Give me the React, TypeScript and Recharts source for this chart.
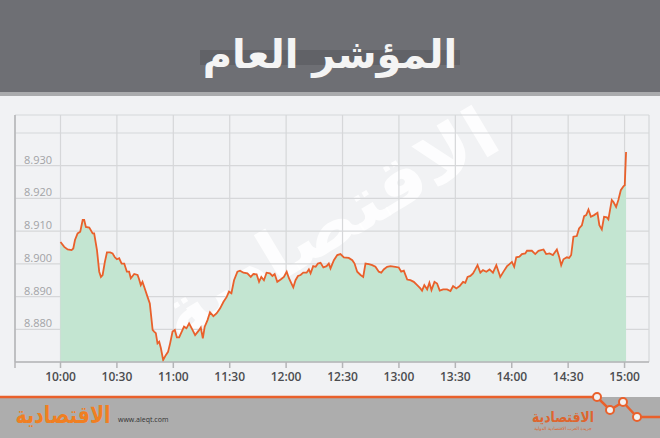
import { AreaChart, Area, XAxis, YAxis, CartesianGrid } from "recharts";

// minutes after 10:00 and index level
const minutes = [
  0, 2, 3.8, 5.9, 6.8, 7.7, 9.1, 10.5, 11.8, 12.6,
  13.5, 15.3, 17.1, 17.9, 19.4, 20.6, 21.5, 22.4, 23.6, 24.7,
  26.4, 27.7, 28.9, 30, 31.2, 32.5, 33.9, 35.3, 36.5, 37.4,
  39.2, 41, 41.8, 42.7, 43.6, 44.5, 46.3, 47.5, 49, 49.8,
  50.7, 51.6, 52.5, 53.4, 54.6, 56, 57.2, 58.3, 59.6, 60.8,
  61.9, 63.1, 64.9, 65.7, 67, 68.4, 70.2, 71.6, 73.4, 74.6,
  75.7, 76.7, 78.2, 79.5, 81.3, 83.1, 84.9, 86.7, 88.4, 89.6,
  90.9, 92.3, 94.1, 95.5, 97.3, 99.4, 101.2, 102.6, 104.3, 105.6,
  106.8, 108.2, 109.6, 111.4, 112.7, 113.9, 115.3, 117.1, 118.8, 120.3,
  121.5, 122.8, 123.8, 125, 126.3, 127.7, 129.1, 130.9, 132.1, 133,
  134.4, 135.7, 136.9, 138.3, 139.8, 141.5, 142.7, 143.6, 145.4, 147.2,
  148.9, 150.7, 153.3, 155.2, 156.4, 157.8, 159.6, 161, 162.2, 164,
  165.8, 167.5, 169.3, 170.6, 171.9, 173.7, 175.5, 178.1, 179.9, 181.2,
  182.6, 184.4, 186.1, 187.9, 189.7, 191.4, 192.3, 193.5, 195, 196.2,
  197.3, 198.9, 200.3, 201.7, 203.5, 205.6, 207.4, 208.8, 210.5, 212.3,
  214.1, 215.3, 216.5, 218, 219.4, 220.6, 221.8, 223.3, 224.7, 226.5,
  228.2, 230, 231.8, 233, 233.9, 235.7, 237.5, 238.8, 240.1, 241.3,
  242.4, 244.1, 245.4, 247.2, 248.1, 250.7, 252.5, 254.2, 256.9, 258.3,
  260.1, 261.9, 264, 265.2, 266.3, 267.5, 269.3, 270.5, 271.6, 272.8,
  274.6, 275.8, 277.3, 278.5, 279.6, 280.8, 282.1, 283.8, 285.6, 286.6,
  287.9, 289.1, 290.6, 291.4, 293.2, 294.1, 295.5, 296.7, 298, 299.4,
  300.1, 300.8,
];

const levels = [
  8.9067, 8.9052, 8.9044, 8.9042, 8.9047, 8.9073, 8.9093, 8.9098, 8.9134, 8.9134,
  8.9113, 8.9111, 8.9093, 8.9093, 8.9042, 8.8976, 8.896, 8.8966, 8.9006, 8.9035,
  8.9035, 8.9032, 8.902, 8.9014, 8.9017, 8.9001, 8.9001, 8.8976, 8.8976, 8.8956,
  8.8969, 8.8966, 8.8953, 8.8935, 8.8945, 8.893, 8.8899, 8.8879, 8.8798, 8.8793,
  8.8788, 8.8757, 8.8762, 8.8742, 8.8706, 8.8721, 8.8731, 8.8757, 8.8793, 8.8798,
  8.8775, 8.8775, 8.8798, 8.8808, 8.8803, 8.8818, 8.8798, 8.8782, 8.8795, 8.8805,
  8.8772, 8.8808, 8.8828, 8.8852, 8.884, 8.8849, 8.8864, 8.8884, 8.8899, 8.8915,
  8.891, 8.895, 8.8976, 8.8979, 8.8973, 8.8971, 8.896, 8.8969, 8.8968, 8.8945,
  8.896, 8.895, 8.8973, 8.8971, 8.8963, 8.8969, 8.8945, 8.8952, 8.896, 8.8976,
  8.8956, 8.894, 8.8928, 8.895, 8.8963, 8.8966, 8.8973, 8.8973, 8.8983, 8.8971,
  8.8993, 8.8991, 8.9001, 8.9003, 8.8989, 8.8993, 8.9001, 8.8986, 8.9011, 8.9027,
  8.903, 8.902, 8.9018, 8.9011, 8.9001, 8.8976, 8.8966, 8.896, 8.9001, 8.8999,
  8.8996, 8.8991, 8.8976, 8.8973, 8.8983, 8.8991, 8.8993, 8.8991, 8.8989, 8.8976,
  8.8979, 8.8952, 8.895, 8.8945, 8.8935, 8.8925, 8.8918, 8.8935, 8.8922, 8.8942,
  8.892, 8.8945, 8.894, 8.8918, 8.8922, 8.8922, 8.8917, 8.8932, 8.8925, 8.8932,
  8.8945, 8.8942, 8.896, 8.8963, 8.8971, 8.8983, 8.8996, 8.8973, 8.8981, 8.8976,
  8.8983, 8.8973, 8.8996, 8.8976, 8.896, 8.8977, 8.8993, 8.8999, 8.9006, 8.8991,
  8.902, 8.9022, 8.903, 8.9032, 8.904, 8.904, 8.903, 8.904, 8.9044, 8.903,
  8.9032, 8.9027, 8.9044, 8.9022, 8.8996, 8.9014, 8.902, 8.9018, 8.9027, 8.9083,
  8.9085, 8.9108, 8.9118, 8.9146, 8.9149, 8.9166, 8.9144, 8.9149, 8.9156, 8.9118,
  8.9105, 8.9144, 8.9142, 8.9136, 8.9195, 8.9189, 8.9174, 8.9195, 8.9225, 8.9237,
  8.924, 8.9342,
];

const timeTicks = [0, 30, 60, 90, 120, 150, 180, 210, 240, 270, 300];
const timeLabels = ["10:00", "10:30", "11:00", "11:30", "12:00", "12:30", "13:00", "13:30", "14:00", "14:30", "15:00"];
const levelTicks = [8.87, 8.88, 8.89, 8.9, 8.91, 8.92, 8.93, 8.94];
const levelLabels = ["", "8.880", "8.890", "8.900", "8.910", "8.920", "8.930", ""];

const title = "المؤشر العام";
const brand = "الاقتصادية";

const W = 660;
const H = 438;
const PLOT_LEFT = 14;
const X_MIN = -24.2;
const X_MAX = 313;

const data = minutes.map((t, i) => ({ t, v: levels[i] }));

const axisGray = "#b4b5b7";
const gridGray = "#d6d7d9";
const orange = "#e9602b";

function levelTick(props: any) {
  const value = props.payload?.value;
  const i = levelTicks.findIndex((v) => Math.abs(v - value) < 1e-6);
  const label = i >= 0 ? levelLabels[i] : "";
  if (!label) return <g />;
  return (
    <text x={PLOT_LEFT + 10} y={props.y - 2} textAnchor="start" fontSize={11} fill="#a2a3a6" fontFamily="Open Sans">
      {label}
    </text>
  );
}

function timeLabel(v: number) {
  const i = timeTicks.indexOf(v);
  return i >= 0 ? timeLabels[i] : "";
}

function Backdrop() {
  const zig = [
    [0, 397],
    [597, 397],
    [610, 410],
    [623, 402],
    [637, 417],
    [660, 417],
  ];
  return (
    <svg width={W} height={H} style={{ position: "absolute", left: 0, top: 0 }}>
      <rect x={0} y={0} width={W} height={H} fill="#f1f2f4" />
      <rect x={0} y={0} width={W} height={92} fill="#6e6f74" />
      <rect x={0} y={92} width={W} height={4} fill="#aaabad" />
      <rect x={200} y={50} width={260} height={15} fill="#616267" />
      <text x={330} y={68} textAnchor="middle" fontSize={40} fontWeight="bold" fontFamily="DejaVu Sans" fill="#f4f4f4">
        {title}
      </text>
      {/* faint watermark across the plot */}
      <text
        x={330}
        y={248}
        transform="rotate(-31 330 226)"
        textAnchor="middle"
        fontSize={70}
        fontWeight="bold"
        fontFamily="DejaVu Sans"
        fill="#ffffff"
        fillOpacity={0.85}
        textLength={380}
        lengthAdjust="spacingAndGlyphs"
      >
        {brand}
      </text>
      <rect x={0} y={397} width={W} height={41} fill="#adadad" />
      <text x={118} y={422} textAnchor="start" fontSize={7} fontFamily="Open Sans" fill="#333">
        www.aleqt.com
      </text>
      <text
        transform="translate(63 423) scale(1 1.25)"
        textAnchor="middle"
        fontSize={19}
        fontWeight="bold"
        fontFamily="DejaVu Sans"
        fill="#f07f22"
      >
        {brand}
      </text>
      <text
        transform="translate(563 422) scale(1 1.2)"
        textAnchor="middle"
        fontSize={12.4}
        fontWeight="bold"
        fontFamily="DejaVu Sans"
        fill="#de652e"
      >
        {brand}
      </text>
      <text x={563} y={430} textAnchor="middle" fontSize={4.5} fontFamily="DejaVu Sans" fill="#de652e">
        جريدة العرب الاقتصادية الدولية
      </text>
      <polyline points={zig.map((p) => p.join(",")).join(" ")} fill="none" stroke={orange} strokeWidth={2.5} />
      {zig.slice(1, 5).map((p, i) => (
        <circle key={i} cx={p[0]} cy={p[1]} r={4} fill="#f2f2f2" stroke={orange} strokeWidth={2} />
      ))}
    </svg>
  );
}

export default function App() {
  return (
    <div style={{ position: "absolute", left: 0, top: 0, width: W, height: H, overflow: "hidden", fontFamily: "Open Sans" }}>
      <Backdrop />
      <div style={{ position: "absolute", left: 0, top: 0 }}>
        <AreaChart width={W} height={H} data={data} margin={{ top: 115, right: 11, bottom: 52, left: PLOT_LEFT }}>
          <CartesianGrid stroke={gridGray} strokeWidth={1.2} />
          <XAxis
            dataKey="t"
            type="number"
            domain={[X_MIN, X_MAX]}
            ticks={[X_MIN, ...timeTicks]}
            tickFormatter={timeLabel}
            interval={0}
            height={24}
            axisLine={{ stroke: axisGray, strokeWidth: 1.5 }}
            tickLine={{ stroke: axisGray, strokeWidth: 1.5 }}
            tickSize={6}
            tickMargin={4}
            tick={{ fontSize: 12, fontWeight: 600, fill: "#4b4c4f", fontFamily: "Open Sans" }}
          />
          <YAxis
            type="number"
            domain={[8.87, 8.9455]}
            ticks={levelTicks}
            interval={0}
            width={1}
            axisLine={{ stroke: axisGray, strokeWidth: 1.5 }}
            tickLine={false}
            tick={levelTick}
            allowDataOverflow
          />
          <Area
            type="linear"
            dataKey="v"
            stroke={orange}
            strokeWidth={1.8}
            fill="#c3e5d1"
            fillOpacity={1}
            isAnimationActive={false}
            dot={false}
            activeDot={false}
          />
        </AreaChart>
      </div>
    </div>
  );
}
